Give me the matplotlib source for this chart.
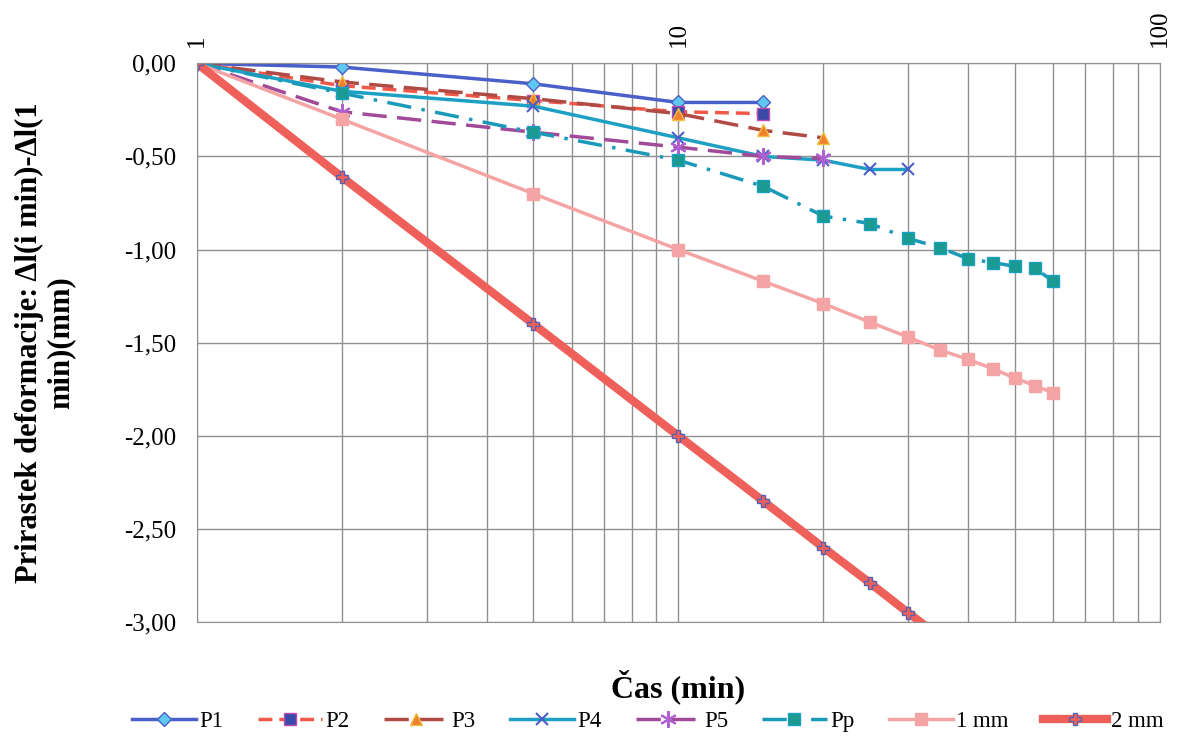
import matplotlib
matplotlib.use("Agg")
import matplotlib.pyplot as plt
from matplotlib.ticker import FixedLocator, FuncFormatter, NullFormatter

plt.rcParams['font.family'] = ['Liberation Serif', 'DejaVu Serif']

# time (min)
t_p1 = [1, 2, 5, 10, 15]
p1 = [0.0, -0.02, -0.11, -0.21, -0.21]
t_p2 = [1, 2, 5, 10, 15]
p2 = [0.0, -0.12, -0.20, -0.26, -0.27]
t_p3 = [1, 2, 5, 10, 15, 20]
p3 = [0.0, -0.10, -0.19, -0.27, -0.36, -0.40]
t_p4 = [1, 2, 5, 10, 15, 20, 25, 30]
p4 = [0.0, -0.15, -0.23, -0.40, -0.50, -0.52, -0.57, -0.57]
t_p5 = [1, 2, 5, 10, 15, 20]
p5 = [0.0, -0.26, -0.37, -0.45, -0.50, -0.51]
t_pp = [1, 2, 5, 10, 15, 20, 25, 30, 35, 40, 45, 50, 55, 60]
pp = [0.0, -0.16, -0.37, -0.52, -0.66, -0.82, -0.86, -0.94, -0.99,
      -1.05, -1.07, -1.09, -1.10, -1.17]
t_1mm = [1, 2, 5, 10, 15, 20, 25, 30, 35, 40, 45, 50, 55, 60]
mm1 = [0.0, -0.30, -0.70, -1.00, -1.17, -1.29, -1.39, -1.47, -1.54,
       -1.59, -1.64, -1.69, -1.73, -1.77]
t_2mm = [1, 2, 5, 10, 15, 20, 25, 30, 35]
mm2 = [0.0, -0.61, -1.40, -2.00, -2.35, -2.60, -2.79, -2.95, -3.08]

fig = plt.figure(figsize=(11.86, 7.45), dpi=100)
ax = fig.add_axes([0.166, 0.165, 0.812, 0.750])

ax.plot(t_p1, p1, color='#4a5fc8', lw=2.5, marker='D', ms=7,
        mfc='#5ec8f0', mec='#4a5fc8', label='P1')
ax.plot(t_p2, p2, color='#f0584a', lw=2.5, ls=(0, (4, 2)), marker='s', ms=8,
        mfc='#3a4aa8', mec='#c04ab0', label='P2')
ax.plot(t_p3, p3, color='#b04a44', lw=2.5, ls=(0, (7, 3)), marker='^', ms=8,
        mfc='#f08030', mec='#f0c040', label='P3')
ax.plot(t_p4, p4, color='#1ea0c4', lw=2.5, marker='x', ms=8, mew=1.5,
        mec='#4a5fc8', label='P4')
ax.plot(t_p5, p5, color='#a04a98', lw=2.5, ls=(0, (7, 3)), marker=(6, 2, 0),
        ms=12, mew=1.5, mec='#b060d0', label='P5')
ax.plot(t_pp, pp, color='#1a9ab8', lw=2.5, ls=(0, (7, 3, 1, 3)), marker='s',
        ms=8, mfc='#1a9a90', mec='#1aa0c0', label='Pp')
ax.plot(t_1mm, mm1, color='#f4a4a4', lw=2.5, marker='s', ms=8,
        mfc='#f4a4a4', mec='#f4a4a4', label='1 mm')
ax.plot(t_2mm, mm2, color='#f0605a', lw=6, marker='P', ms=9,
        mfc='#f0605a', mec='#5a60b0', mew=1, label='2 mm')

ax.set_xscale('log')
ax.set_xlim(1, 100)
ax.set_ylim(-3, 0)
ax.xaxis.tick_top()
ax.xaxis.set_major_locator(FixedLocator([1, 10, 100]))
ax.xaxis.set_major_formatter(FuncFormatter(lambda v, p: f"{v:g}"))
ax.xaxis.set_minor_formatter(NullFormatter())
ax.set_yticks([0, -0.5, -1, -1.5, -2, -2.5, -3])
ax.yaxis.set_major_formatter(FuncFormatter(lambda v, p: f"{v:.2f}".replace('.', ',').replace('-0,00', '0,00')))
ax.tick_params(axis='both', which='both', length=0, labelsize=18)
ax.tick_params(axis='y', pad=15)
ax.tick_params(axis='x', pad=12, labelrotation=90)
ax.grid(True, which='both', axis='x', color='#909090', lw=1)
ax.grid(True, which='major', axis='y', color='#909090', lw=1)
for s in ax.spines.values():
    s.set_color('#909090')

ax.set_xlabel('Čas (min)', fontsize=23, fontweight='bold', labelpad=34)
fig.text(0.038, 0.54, 'Prirastek deformacije: Δl(i min)-Δl(1\nmin)(mm)',
         rotation=90, ha='center', va='center', fontsize=22,
         fontweight='bold', multialignment='center', linespacing=1.1)

fig.legend(loc='center', bbox_to_anchor=(0.546, 0.031), ncol=8,
           frameon=False, fontsize=16.5, handlelength=2.8, columnspacing=1.5,
           handletextpad=0.15)

fig.savefig('out.png', dpi=100)
